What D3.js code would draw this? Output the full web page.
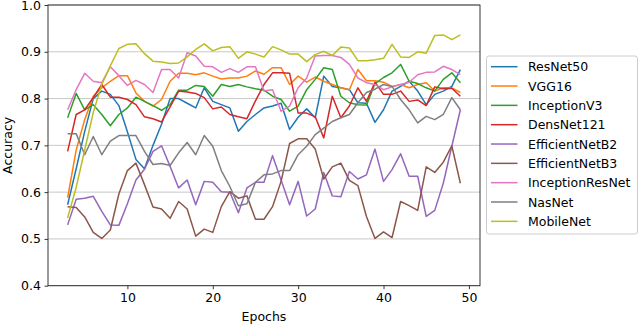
<!DOCTYPE html>
<html>
<head>
<meta charset="utf-8">
<script src="https://cdn.jsdelivr.net/npm/d3@7"></script>
<style>
  body { margin: 0; background: #fff; }
  svg { display: block; font-family: "DejaVu Sans", sans-serif; }
  .tick text { font-size: 12.5px; fill: #000; }
</style>
</head>
<body>
<svg width="640" height="327"></svg>
<script>
const epochs = [3, 4, 5, 6, 7, 8, 9, 10, 11, 12, 13, 14, 15, 16, 17, 18, 19, 20, 21, 22, 23, 24, 25, 26,
  27, 28, 29, 30, 31, 32, 33, 34, 35, 36, 37, 38, 39, 40, 41, 42, 43, 44, 45, 46, 47, 48, 49];

const resNet50 = [0.573, 0.65, 0.73, 0.8, 0.816, 0.809, 0.785, 0.729, 0.67, 0.65, 0.7, 0.745, 0.8, 0.8,
  0.79, 0.78, 0.823, 0.794, 0.787, 0.78, 0.73, 0.751, 0.766, 0.78, 0.784, 0.79, 0.734, 0.76, 0.778,
  0.759, 0.848, 0.826, 0.823, 0.819, 0.791, 0.79, 0.749, 0.776, 0.816, 0.826, 0.837, 0.816, 0.787,
  0.809, 0.816, 0.826, 0.862];
const vgg16 = [0.588, 0.69, 0.755, 0.805, 0.823, 0.837, 0.849, 0.849, 0.812, 0.794, 0.784, 0.798,
  0.837, 0.854, 0.854, 0.851, 0.855, 0.848, 0.842, 0.844, 0.844, 0.848, 0.859, 0.852, 0.866, 0.866,
  0.83, 0.848, 0.835, 0.846, 0.837, 0.83, 0.823, 0.819, 0.862, 0.838, 0.838, 0.835, 0.826, 0.83,
  0.823, 0.83, 0.834, 0.816, 0.823, 0.823, 0.813];
const inceptionV3 = [0.759, 0.811, 0.776, 0.787, 0.766, 0.742, 0.766, 0.78, 0.803, 0.794, 0.785,
  0.775, 0.787, 0.818, 0.818, 0.828, 0.826, 0.805, 0.83, 0.826, 0.83, 0.825, 0.821, 0.818, 0.805,
  0.798, 0.773, 0.784, 0.819, 0.841, 0.866, 0.862, 0.805, 0.791, 0.787, 0.786, 0.832, 0.845, 0.855,
  0.873, 0.837, 0.832, 0.823, 0.816, 0.841, 0.855, 0.834];
const densNet121 = [0.687, 0.766, 0.776, 0.802, 0.83, 0.803, 0.803, 0.798, 0.787, 0.761, 0.757, 0.75,
  0.782, 0.816, 0.814, 0.811, 0.802, 0.778, 0.782, 0.766, 0.761, 0.757, 0.795, 0.83, 0.855, 0.855,
  0.854, 0.769, 0.769, 0.761, 0.716, 0.805, 0.759, 0.784, 0.823, 0.794, 0.835, 0.809, 0.809, 0.816,
  0.794, 0.797, 0.785, 0.825, 0.821, 0.822, 0.805];
const efficientNetB2 = [0.53, 0.585, 0.587, 0.591, 0.559, 0.53, 0.529, 0.575, 0.626, 0.649, 0.687,
  0.699, 0.655, 0.609, 0.626, 0.573, 0.623, 0.621, 0.601, 0.6, 0.556, 0.609, 0.621, 0.621, 0.678,
  0.626, 0.573, 0.623, 0.549, 0.564, 0.642, 0.592, 0.59, 0.644, 0.628, 0.637, 0.692, 0.623, 0.648,
  0.682, 0.634, 0.634, 0.548, 0.561, 0.619, 0.698, 0.776];
const efficientNetB3 = [0.569, 0.567, 0.547, 0.514, 0.501, 0.519, 0.596, 0.646, 0.662, 0.616, 0.568,
  0.564, 0.544, 0.58, 0.564, 0.506, 0.521, 0.514, 0.569, 0.601, 0.587, 0.592, 0.542, 0.542, 0.569,
  0.623, 0.704, 0.714, 0.714, 0.692, 0.628, 0.654, 0.662, 0.625, 0.614, 0.548, 0.501, 0.515, 0.503,
  0.58, 0.571, 0.561, 0.654, 0.642, 0.664, 0.699, 0.619];
const inceptionResNet = [0.776, 0.819, 0.854, 0.837, 0.834, 0.868, 0.849, 0.828, 0.839, 0.83, 0.813,
  0.862, 0.862, 0.844, 0.898, 0.891, 0.869, 0.868, 0.856, 0.864, 0.856, 0.868, 0.868, 0.816, 0.819,
  0.773, 0.784, 0.823, 0.844, 0.891, 0.892, 0.892, 0.888, 0.873, 0.844, 0.834, 0.83, 0.819, 0.825,
  0.83, 0.835, 0.851, 0.856, 0.857, 0.869, 0.862, 0.851];
const nasNet = [0.725, 0.725, 0.68, 0.719, 0.68, 0.709, 0.721, 0.721, 0.721, 0.687, 0.659, 0.661,
  0.657, 0.684, 0.706, 0.68, 0.721, 0.698, 0.646, 0.612, 0.571, 0.575, 0.621, 0.637, 0.639, 0.646,
  0.646, 0.68, 0.698, 0.723, 0.737, 0.751, 0.759, 0.766, 0.791, 0.813, 0.82, 0.83, 0.826, 0.798,
  0.776, 0.748, 0.762, 0.755, 0.766, 0.802, 0.776];
const mobileNet = [0.545, 0.61, 0.69, 0.77, 0.83, 0.87, 0.907, 0.916, 0.917, 0.896, 0.88, 0.878,
  0.875, 0.876, 0.889, 0.905, 0.917, 0.902, 0.909, 0.911, 0.886, 0.9, 0.895, 0.889, 0.911, 0.904,
  0.895, 0.895, 0.879, 0.894, 0.901, 0.892, 0.91, 0.908, 0.881, 0.881, 0.883, 0.886, 0.916, 0.889,
  0.888, 0.9, 0.897, 0.935, 0.936, 0.926, 0.936];

const names = ["ResNet50", "VGG16", "InceptionV3", "DensNet121", "EfficientNetB2",
  "EfficientNetB3", "InceptionResNet", "NasNet", "MobileNet"];
const values = [resNet50, vgg16, inceptionV3, densNet121, efficientNetB2,
  efficientNetB3, inceptionResNet, nasNet, mobileNet];
const colours = ["#1f77b4", "#ff7f0e", "#2ca02c", "#d62728", "#9467bd",
  "#8c564b", "#e377c2", "#7f7f7f", "#bcbd22"];
const xTicks = [10, 20, 30, 40, 50];
const yTicks = [0.4, 0.5, 0.6, 0.7, 0.8, 0.9, 1.0];

const svg = d3.select("svg");
const plot = { left: 48, right: 480, top: 5, bottom: 285.7 };

// matplotlib style 5% margin on x
const x = d3.scaleLinear().domain([0.7, 51.3]).range([plot.left, plot.right]);
const y = d3.scaleLinear().domain([0.4, 1.0]).range([plot.bottom, plot.top]);

// horizontal grid
svg.append("g")
  .selectAll("line")
  .data(yTicks)
  .join("line")
  .attr("x1", plot.left)
  .attr("x2", plot.right)
  .attr("y1", (d) => y(d))
  .attr("y2", (d) => y(d))
  .attr("stroke", "#b0b0b0")
  .attr("stroke-opacity", 0.7)
  .attr("stroke-width", 1);

const line = d3.line()
  .x((d) => x(d[0]))
  .y((d) => y(d[1]));

svg.append("g")
  .selectAll("path")
  .data(values)
  .join("path")
  .attr("d", (vals) => line(vals.map((v, i) => [epochs[i], v])))
  .attr("fill", "none")
  .attr("stroke", (_, i) => colours[i])
  .attr("stroke-width", 1.5)
  .attr("stroke-linejoin", "round");

// frame
svg.append("rect")
  .attr("x", plot.left)
  .attr("y", plot.top)
  .attr("width", plot.right - plot.left)
  .attr("height", plot.bottom - plot.top)
  .attr("fill", "none")
  .attr("stroke", "#222")
  .attr("stroke-width", 0.9);

const xAxis = svg.append("g")
  .attr("transform", `translate(0,${plot.bottom})`)
  .call(d3.axisBottom(x).tickValues(xTicks).tickSize(3.5).tickPadding(3.5).tickFormat(d3.format("d")));
const yAxis = svg.append("g")
  .attr("transform", `translate(${plot.left},0)`)
  .call(d3.axisLeft(y).tickValues(yTicks).tickSize(3.5).tickPadding(3.5).tickFormat(d3.format(".1f")));
[xAxis, yAxis].forEach((g) => {
  g.select(".domain").remove();
  g.selectAll(".tick line").attr("stroke", "#222").attr("stroke-width", 0.9);
  g.selectAll("text").style("font-family", "DejaVu Sans");
});

svg.append("text")
  .attr("x", (plot.left + plot.right) / 2)
  .attr("y", 321)
  .attr("text-anchor", "middle")
  .attr("font-size", 12.5)
  .text("Epochs");

svg.append("text")
  .attr("transform", `translate(12,${(plot.top + plot.bottom) / 2}) rotate(-90)`)
  .attr("text-anchor", "middle")
  .attr("font-size", 12.5)
  .text("Accuracy");

// legend
const legend = svg.append("g");
legend.append("rect")
  .attr("x", 486.5)
  .attr("y", 56)
  .attr("width", 151)
  .attr("height", 178)
  .attr("rx", 2.5)
  .attr("fill", "#fff")
  .attr("fill-opacity", 0.8)
  .attr("stroke", "#cccccc");

const items = legend.selectAll("g.item")
  .data(names)
  .join("g")
  .attr("class", "item")
  .attr("transform", (_, i) => `translate(0,${66.7 + i * 19.33})`);
items.append("line")
  .attr("x1", 491)
  .attr("x2", 517.5)
  .attr("stroke", (_, i) => colours[i])
  .attr("stroke-width", 1.5);
items.append("text")
  .attr("x", 528)
  .attr("dy", "0.36em")
  .attr("font-size", 12.5)
  .text((d) => d);
</script>
</body>
</html>
